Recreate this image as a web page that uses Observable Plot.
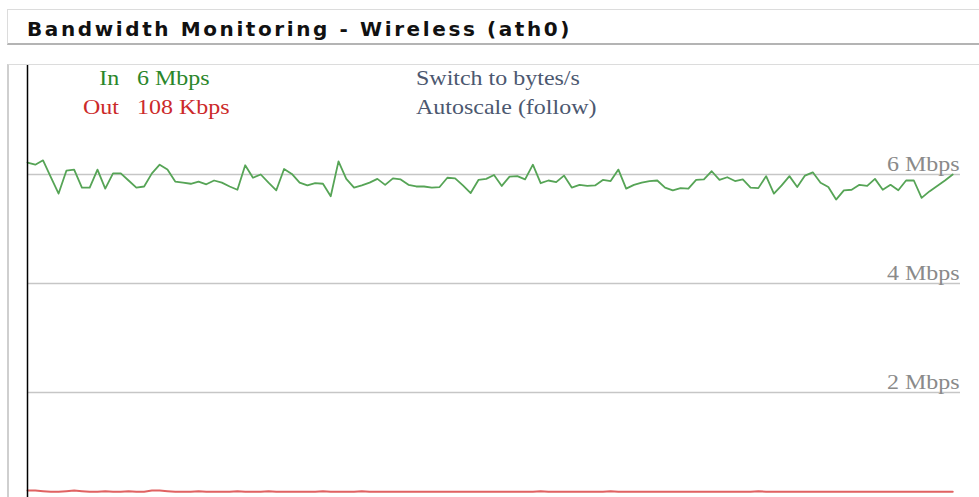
<!DOCTYPE html>
<html>
<head>
<meta charset="utf-8">
<script src="https://cdn.jsdelivr.net/npm/d3@7"></script>
<script src="https://cdn.jsdelivr.net/npm/@observablehq/plot@0.6"></script>
<style>
  html, body { margin: 0; padding: 0; background: #fff; width: 979px; height: 497px; overflow: hidden; position: relative; }
  #titlebox { position: absolute; left: 7px; top: 9px; width: 990px; height: 33px; border-top: 1px solid #dcdcdc; border-left: 1px solid #dcdcdc; border-bottom: 2px solid #b4b4b4; }
  #title { position: absolute; left: 27px; top: 17px; font: bold 20px "DejaVu Sans", Verdana, sans-serif; letter-spacing: 2.6px; color: #111; white-space: nowrap; line-height: 24px; }
  #chartbox { position: absolute; left: 7px; top: 64px; width: 990px; height: 440px; border-top: 1px solid #dcdcdc; border-left: 2px solid #cfcfcf; }
  #chart { position: absolute; left: 0; top: 65px; }
  .lg { position: absolute; font-family: "Liberation Serif", "Times New Roman", serif; font-size: 22px; line-height: 22px; white-space: nowrap; }
</style>
</head>
<body>
<div id="titlebox"></div>
<div id="title"></div>
<div id="chartbox"></div>
<div id="chart"></div>
<div id="legend"></div>
<script>
// ---- data ----
const titleText = "Bandwidth Monitoring - Wireless (ath0)";
const seriesNames = ["In", "Out"];
const currentValues = ["6 Mbps", "108 Kbps"];
const optionLinks = ["Switch to bytes/s", "Autoscale (follow)"];
const yTickValues = [2, 4, 6];
const yTickLabels = ["2 Mbps", "4 Mbps", "6 Mbps"];

// inbound rate (Mbps), one sample per interval
const inMbps = [
  6.22,6.18,6.26,5.95,5.65,6.07,6.09,5.76,5.76,6.09,
  5.74,6.02,6.02,5.89,5.76,5.78,6.02,6.18,6.09,5.87,
  5.85,5.83,5.87,5.82,5.89,5.85,5.78,5.72,6.17,5.94,
  6.00,5.85,5.71,6.10,6.01,5.85,5.80,5.84,5.83,5.60,
  6.24,5.92,5.76,5.80,5.85,5.92,5.81,5.93,5.91,5.81,
  5.78,5.78,5.76,5.77,5.94,5.93,5.80,5.66,5.90,5.92,
  5.99,5.79,5.96,5.97,5.91,6.18,5.84,5.89,5.86,5.98,
  5.76,5.81,5.79,5.80,5.90,5.88,6.09,5.74,5.81,5.85,
  5.88,5.89,5.76,5.71,5.75,5.74,5.90,5.91,6.06,5.90,
  5.95,5.88,5.91,5.76,5.75,5.97,5.65,5.80,5.97,5.77,
  5.98,6.04,5.85,5.77,5.54,5.71,5.72,5.81,5.79,5.92,
  5.72,5.81,5.71,5.89,5.89,5.57,5.69,5.79,5.89,6.00
];
// outbound rate (Mbps)
const outMbps = [
  0.20,0.20,0.19,0.18,0.18,0.19,0.20,0.19,0.18,0.18,
  0.19,0.18,0.18,0.19,0.18,0.18,0.20,0.20,0.19,0.18,
  0.18,0.18,0.19,0.18,0.18,0.18,0.18,0.19,0.18,0.18,
  0.18,0.19,0.18,0.18,0.18,0.18,0.18,0.18,0.19,0.18,
  0.18,0.18,0.18,0.19,0.18,0.18,0.18,0.18,0.18,0.18,
  0.18,0.18,0.18,0.18,0.18,0.18,0.18,0.18,0.18,0.18,
  0.18,0.18,0.18,0.18,0.18,0.18,0.19,0.18,0.18,0.18,
  0.18,0.18,0.18,0.18,0.18,0.19,0.18,0.18,0.18,0.18,
  0.18,0.18,0.18,0.18,0.18,0.18,0.18,0.18,0.18,0.18,
  0.18,0.18,0.18,0.18,0.19,0.18,0.18,0.18,0.18,0.18,
  0.18,0.18,0.18,0.18,0.18,0.18,0.18,0.18,0.18,0.18,
  0.18,0.18,0.18,0.18,0.18,0.18,0.18,0.18,0.18,0.18
];

const serif = '"Liberation Serif", "Times New Roman", serif';
const inRows = inMbps.map((v, i) => ({t: i, v}));
const outRows = outMbps.map((v, i) => ({t: i, v}));
const ticks = yTickValues.map((v, i) => ({v, label: yTickLabels[i]}));

const chart = Plot.plot({
  width: 979,
  height: 432,
  marginLeft: 27,
  marginRight: 19,
  marginTop: 0,
  marginBottom: 0,
  x: {domain: [0, inMbps.length], axis: null},
  y: {domain: [0, 8], range: [436, 0], axis: null},
  marks: [
    Plot.ruleY(ticks, {y: "v", stroke: "#c6c6c6", strokeWidth: 1.6}),
    Plot.text(ticks, {y: "v", text: "label", frameAnchor: "right", textAnchor: "end", lineAnchor: "bottom", dx: -1, dy: -4, fill: "#8a8a8a", fontSize: 22, fontFamily: serif}),
    Plot.line(outRows, {x: "t", y: "v", stroke: "#e06262", strokeWidth: 2}),
    Plot.line(inRows, {x: "t", y: "v", stroke: "#56a456", strokeWidth: 1.8}),
    Plot.ruleX([0], {stroke: "#000", strokeWidth: 1.5})
  ]
});
// the source rendering has slightly wide serif glyphs
d3.select(chart).selectAll("text").attr("transform", function () {
  return (this.getAttribute("transform") || "") + " scale(1.09,1)";
});
document.getElementById("chart").appendChild(chart);
document.getElementById("title").textContent = titleText;

const legend = document.getElementById("legend");
const colors = ["#2a862a", "#cc2a2a"];
const rowsTop = [67, 96];
function addText(txt, color, top, side, pos) {
  const el = document.createElement("div");
  el.className = "lg";
  el.style[side] = pos + "px";
  el.style.top = top + "px";
  el.style.color = color;
  el.style.transform = "scaleX(1.09)";
  el.style.transformOrigin = side === "right" ? "right" : "left";
  el.textContent = txt;
  legend.appendChild(el);
}
seriesNames.forEach((name, i) => {
  addText(name, colors[i], rowsTop[i], "right", 979 - 119);
  addText(currentValues[i], colors[i], rowsTop[i], "left", 137);
  addText(optionLinks[i], "#4c5870", rowsTop[i], "left", 416);
});
</script>
</body>
</html>
